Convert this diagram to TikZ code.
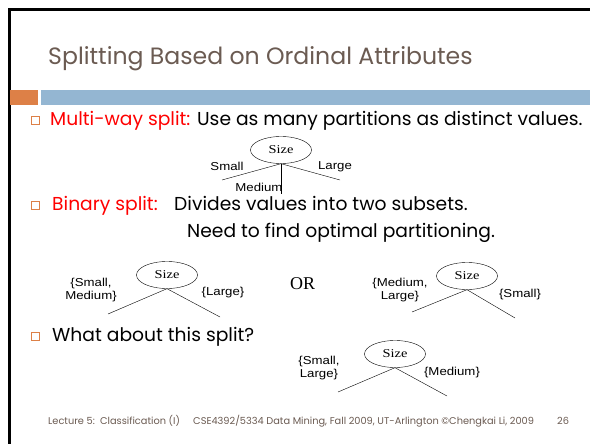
\documentclass[tikz,border=0pt]{standalone}
\usepackage{fontspec}
\setmainfont{Poppins}
\newfontfamily\arialfont[FakeStretch=1.15]{Liberation Sans}
\newfontfamily\timesfont[FakeStretch=1.2]{Liberation Serif}
\newfontfamily\orfont{Liberation Serif}
\usetikzlibrary{positioning,shapes.geometric}
\usepackage{xcolor}
\definecolor{titlebrown}{HTML}{6B5B52}
\definecolor{barorange}{HTML}{DD8047}
\definecolor{barblue}{HTML}{94B6D2}
\definecolor{keyred}{HTML}{FF0000}

\begin{document}
\begin{tikzpicture}[x=1pt, y=-1pt,
  attrnode/.style={draw, ellipse, minimum width=61pt, minimum height=27pt,
    inner sep=0pt, font=\timesfont\fontsize{12}{12}\selectfont},
  branchlabel/.style={font=\arialfont\fontsize{11.5}{13.5}\selectfont, align=center,
    inner sep=0pt},
  bodytext/.style={anchor=base west, inner sep=0pt, font=\fontsize{18.7}{22}\selectfont},
  bulletbox/.style={draw=barorange, line width=0.6pt, minimum size=8pt, inner sep=0pt},
  footnote/.style={anchor=base west, inner sep=0pt, text=titlebrown,
    font=\fontsize{9.8}{11}\selectfont}
]
\useasboundingbox (0,0) rectangle (590,444);
\fill[white] (0,0) rectangle (590,444);

% slide frame and header bars
\draw[line width=2.5pt] (9.5,444) -- (9.5,9.5) -- (590,9.5);
\fill[barorange] (10,90) rectangle (38,105);
\fill[barblue] (41,90) rectangle (590,105);
\node[anchor=base west, inner sep=0pt, text=titlebrown, font=\fontsize{23.6}{28}\selectfont]
  (title) at (48,65) {Splitting Based on Ordinal Attributes};

% bullets
\node[bulletbox] (b1) at (35,120) {};
\node[bodytext] (multi) at (50,125) {\textcolor{keyred}{Multi-way split:} Use as many partitions as distinct values.};
\node[bulletbox] (b2) at (35,205) {};
\node[bodytext] (binary) at (52,210) {\textcolor{keyred}{Binary split:}};
\node[bodytext] (divides) at (174,210) {Divides values into two subsets.};
\node[bodytext] (need) at (187,237) {Need to find optimal partitioning.};
\node[bulletbox] (b3) at (35,336) {};
\node[bodytext] (what) at (52,341) {What about this split?};

% multi-way split
\node[attrnode] (sizea) at (281,150) {Size};
\coordinate (sa1) at (222,180);
\coordinate (sa2) at (281,194);
\coordinate (sa3) at (340,180);
\draw (sizea.south) -- (sa1);
\draw (sizea.south) -- (sa2);
\draw (sizea.south) -- (sa3);
\node[branchlabel] (sma) at (227,166) {Small};
\node[branchlabel] (lga) at (335,167) {Large};
\node[branchlabel] (mda) at (259,187) {Medium};

% binary split, first choice
\node[attrnode] (sizeb) at (167,275) {Size};
\coordinate (sb1) at (108,314);
\coordinate (sb2) at (220,317);
\draw (sizeb.south) -- (sb1);
\draw (sizeb.south) -- (sb2);
\node[branchlabel] (smb) at (91,290) {\{Small,\\Medium\}};
\node[branchlabel] (lgb) at (223,293) {\{Large\}};

\node[anchor=base west, inner sep=0pt, font=\orfont\fontsize{18}{18}\selectfont]
  (or) at (290,289) {OR};

% binary split, second choice
\node[attrnode] (sizec) at (467,276) {Size};
\coordinate (sc1) at (412,312);
\coordinate (sc2) at (515,318);
\draw (sizec.south) -- (sc1);
\draw (sizec.south) -- (sc2);
\node[branchlabel] (mdc) at (400,290) {\{Medium,\\Large\}};
\node[branchlabel] (smc) at (520,295) {\{Small\}};

% the questionable split
\node[attrnode] (sized) at (395,354) {Size};
\coordinate (sd1) at (338,392);
\coordinate (sd2) at (447,396);
\draw (sized.south) -- (sd1);
\draw (sized.south) -- (sd2);
\node[branchlabel] (smd) at (319,368) {\{Small,\\Large\}};
\node[branchlabel] (mdd) at (452,373) {\{Medium\}};

% footer
\node[footnote] (lect) at (48,424) {Lecture 5:\ \ Classification (I)};
\node[footnote] (course) at (193,424) {CSE4392/5334 Data Mining, Fall 2009, UT-Arlington \textcopyright Chengkai Li, 2009};
\node[footnote] (page) at (557,424) {26};
\end{tikzpicture}
\end{document}
